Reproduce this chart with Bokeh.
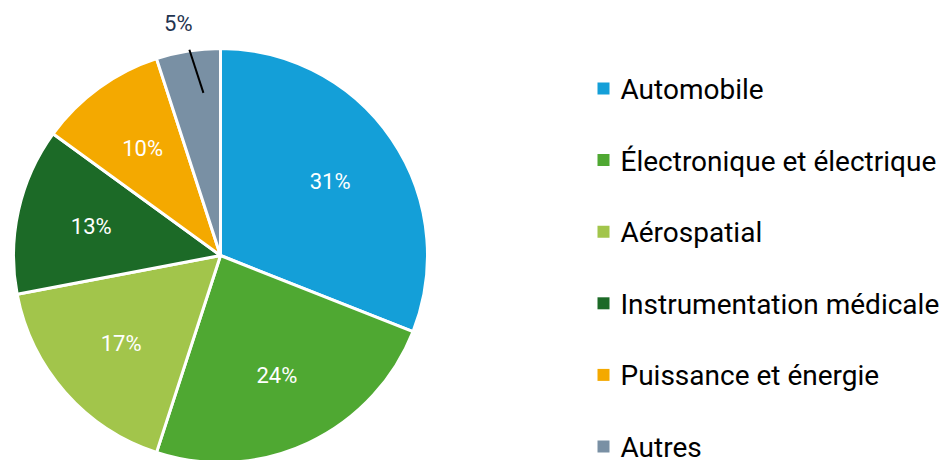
import math
from bokeh.plotting import figure
from bokeh.models import Range1d, ColumnDataSource
from bokeh.core.properties import value
from bokeh.embed import file_html
from bokeh.resources import INLINE

categories = ["Automobile", "Électronique et électrique", "Aérospatial",
              "Instrumentation médicale", "Puissance et énergie", "Autres"]
shares = [31, 24, 17, 13, 10, 5]
colors = ["#149fd8", "#4fa832", "#a2c54b", "#1c6a27", "#f4a900", "#7990a4"]
labels = ["31%", "24%", "17%", "13%", "10%", "5%"]

W, H = 946, 460
p = figure(width=W, height=H, output_backend="svg", toolbar_location=None,
           x_range=Range1d(0, W), y_range=Range1d(0, H), min_border=0)
p.axis.visible = False
p.grid.visible = False
p.outline_line_color = None

cx, cy, R = 220, H - 255, 207
total = sum(shares)
starts, ends, mids = [], [], []
a = math.pi / 2
for s in shares:
    span = 2 * math.pi * s / total
    starts.append(a - span)
    ends.append(a)
    mids.append(a - span / 2)
    a -= span

src = ColumnDataSource(dict(start=starts, end=ends, color=colors))
p.wedge(x=cx, y=cy, radius=R, start_angle="start", end_angle="end",
        fill_color="color", line_color="white", line_width=3, source=src)

# inside labels
lx, ly, lt = [], [], []
for i, (m, t) in enumerate(zip(mids, labels)):
    if shares[i] < 8:
        continue
    lx.append(cx + 0.64 * R * math.cos(m))
    ly.append(cy + 0.64 * R * math.sin(m))
    lt.append(t)
p.text(x=lx, y=ly, text=lt, text_color="white", text_font=value("Roboto"),
       text_font_size="22px", text_align="center", text_baseline="middle")

# outside label with leader line for small slice
d = math.pi / 180
for i, (m, t) in enumerate(zip(mids, labels)):
    if shares[i] >= 8:
        continue
    tx = cx + 1.14 * R * math.cos(m + 1.3 * d)
    ty = cy + 1.14 * R * math.sin(m + 1.3 * d)
    p.text(x=[tx], y=[ty], text=[t], text_color="#1f3450", text_font=value("Roboto"),
           text_font_size="22px", text_align="center", text_baseline="middle")
    sx = cx + 1.005 * R * math.cos(m - 0.4 * d)
    sy = cy + 1.005 * R * math.sin(m - 0.4 * d)
    ex = cx + 0.79 * R * math.cos(m - 3 * d)
    ey = cy + 0.79 * R * math.sin(m - 3 * d)
    p.line(x=[sx, ex], y=[sy, ey], line_color="black", line_width=2)

# legend
n = len(categories)
top, step = H - 88, 71.6
ys = [top - i * step for i in range(n)]
p.rect(x=[603] * n, y=ys, width=12, height=12, fill_color=colors, line_color=None)
p.text(x=[620] * n, y=[y_ - 1 for y_ in ys], text=categories, text_color="black",
       text_font=value("Roboto"), text_font_size="28px", text_align="left",
       text_baseline="middle")

open("out.html", "w").write(file_html(p, INLINE))
